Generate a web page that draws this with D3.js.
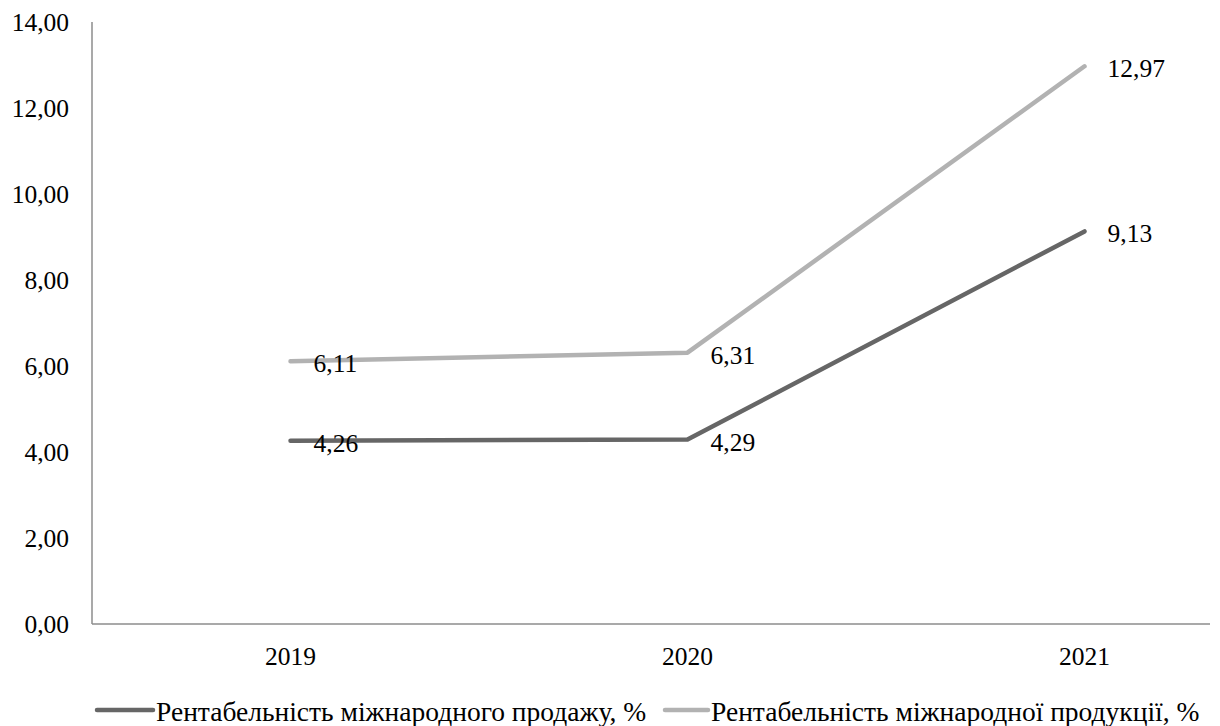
<!DOCTYPE html>
<html>
<head>
<meta charset="utf-8">
<script src="https://cdn.jsdelivr.net/npm/d3@7"></script>
<style>
  html, body { margin: 0; padding: 0; background: #fff; }
  svg { display: block; }
</style>
</head>
<body>
<svg id="chart" width="1220" height="726"></svg>
<script>
// Profitability indicators by year, %
const years = ["2019", "2020", "2021"];
const salesProfitability = [4.26, 4.29, 9.13];
const productProfitability = [6.11, 6.31, 12.97];
const seriesNames = [
  "Рентабельність міжнародного продажу, %",
  "Рентабельність міжнародної продукції, %"
];
const yTicks = [0, 2, 4, 6, 8, 10, 12, 14];

const plot = { left: 92, right: 1210, top: 22, bottom: 624 };
const fontSize = 25.5;
const legendFontSize = 27.5;
const serif = "'Liberation Serif'";

const locale = d3.formatLocale({ decimal: ",", thousands: " ", grouping: [3], currency: ["", ""] });
const fmt = locale.format(".2f");

const svg = d3.select("#chart");

const x = d3.scaleBand()
  .domain(years)
  .range([plot.left, plot.left + 3 * 397]);
const xc = d => x(d) + x.bandwidth() / 2;

const y = d3.scaleLinear()
  .domain([0, 14])
  .range([plot.bottom, plot.top]);

// Axis lines
svg.append("line")
  .attr("x1", plot.left).attr("x2", plot.left)
  .attr("y1", plot.top).attr("y2", plot.bottom)
  .attr("stroke", "#8c8c8c").attr("stroke-width", 1.5);
svg.append("line")
  .attr("x1", plot.left).attr("x2", plot.right)
  .attr("y1", plot.bottom).attr("y2", plot.bottom)
  .attr("stroke", "#8c8c8c").attr("stroke-width", 1.5);

// Y axis labels
svg.append("g").selectAll("text")
  .data(yTicks)
  .join("text")
  .attr("x", plot.left - 23)
  .attr("y", d => y(d))
  .attr("dy", "0.34em")
  .attr("text-anchor", "end")
  .style("font-family", serif)
  .attr("font-size", fontSize)
  .text(d => fmt(d));

// X axis labels
svg.append("g").selectAll("text")
  .data(years)
  .join("text")
  .attr("x", d => xc(d))
  .attr("y", plot.bottom + 41)
  .attr("text-anchor", "middle")
  .style("font-family", serif)
  .attr("font-size", fontSize)
  .text(d => d);

const series = [
  { name: seriesNames[0], values: salesProfitability, color: "#666666" },
  { name: seriesNames[1], values: productProfitability, color: "#b2b2b2" }
];

const line = d3.line()
  .x((d, i) => xc(years[i]))
  .y(d => y(d));

series.forEach(s => {
  svg.append("path")
    .datum(s.values)
    .attr("d", line)
    .attr("fill", "none")
    .attr("stroke", s.color)
    .attr("stroke-width", 4.5)
    .attr("stroke-linecap", "round")
    .attr("stroke-linejoin", "round");
});

// Value labels
series.forEach(s => {
  svg.append("g").selectAll("text")
    .data(s.values)
    .join("text")
    .attr("x", (d, i) => xc(years[i]) + 23)
    .attr("y", d => y(d) + 11)
    .style("font-family", serif)
    .attr("font-size", fontSize)
    .text(d => fmt(d));
});

// Legend
const legendItems = [
  { x: 97, len: 56, color: series[0].color, name: series[0].name },
  { x: 665, len: 43, color: series[1].color, name: series[1].name }
];
const legendY = 710;
legendItems.forEach(item => {
  const g = svg.append("g");
  g.append("line")
    .attr("x1", item.x).attr("x2", item.x + item.len)
    .attr("y1", legendY).attr("y2", legendY)
    .attr("stroke", item.color).attr("stroke-width", 4.5)
    .attr("stroke-linecap", "round");
  g.append("text")
    .attr("x", item.x + item.len + 3)
    .attr("y", legendY + 11)
    .style("font-family", serif)
    .attr("font-size", legendFontSize)
    .text(item.name);
});
</script>
</body>
</html>
